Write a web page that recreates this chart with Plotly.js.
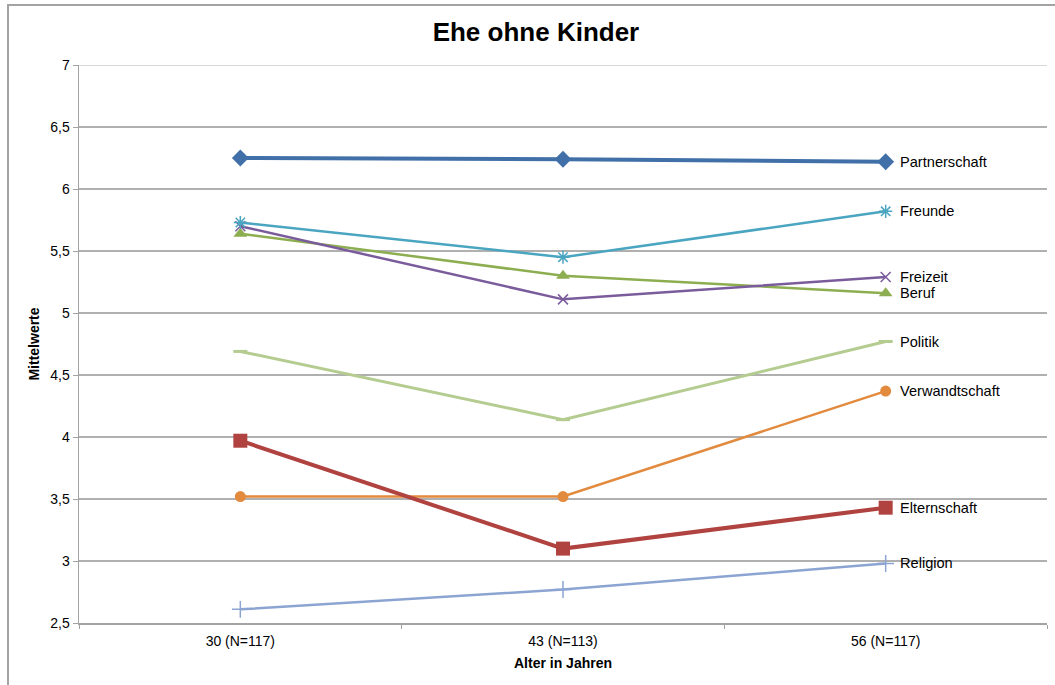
<!DOCTYPE html>
<html>
<head>
<meta charset="utf-8">
<script src="https://cdn.plot.ly/plotly-3.0.1.min.js"></script>
<style>
  html, body { margin: 0; padding: 0; background: #fff; }
  #wrap { position: relative; width: 1055px; height: 685px; overflow: hidden; }
  #chart { position: absolute; left: 0; top: 0; width: 1055px; height: 685px; }
  #frame { position: absolute; left: 7px; top: 4px; width: 1100px; height: 720px;
           border-left: 2px solid #a3a3a3; border-top: 2px solid #a3a3a3; pointer-events: none; }
</style>
</head>
<body>
<div id="wrap">
  <div id="chart"></div>
  <div id="frame"></div>
</div>
<script>
// Age groups (with sample sizes)
const ageGroups = ['30 (N=117)', '43 (N=113)', '56 (N=117)'];

// Mean importance ratings per life domain
const partnerschaft  = [6.25, 6.24, 6.22];
const freunde        = [5.73, 5.45, 5.82];
const freizeit       = [5.70, 5.11, 5.29];
const beruf          = [5.64, 5.30, 5.16];
const politik        = [4.69, 4.14, 4.77];
const verwandtschaft = [3.52, 3.52, 4.37];
const elternschaft   = [3.97, 3.10, 3.43];
const religion       = [2.61, 2.77, 2.98];

const seriesNames = ['Partnerschaft', 'Freunde', 'Freizeit', 'Beruf', 'Politik',
                     'Verwandtschaft', 'Elternschaft', 'Religion'];
const seriesValues = [partnerschaft, freunde, freizeit, beruf, politik,
                      verwandtschaft, elternschaft, religion];

const yMin = 2.5, yMax = 7;

const styles = {
  'Partnerschaft':  { color: '#4170a9', width: 4,   symbol: 'diamond',        size: 13, mline: 0 },
  'Freunde':        { color: '#4aa5c1', width: 2.5, symbol: 'asterisk-open',  size: 11, mline: 1.5 },
  'Freizeit':       { color: '#7a5c9c', width: 2.5, symbol: 'x-thin-open',    size: 10, mline: 1.5 },
  'Beruf':          { color: '#8dae50', width: 2.5, symbol: 'triangle-up',    size: 12, mline: 0 },
  'Politik':        { color: '#b4cc90', width: 3,   symbol: 'line-ew-open',   size: 10, mline: 3 },
  'Verwandtschaft': { color: '#e28a3e', width: 2.5, symbol: 'circle',         size: 11, mline: 0 },
  'Elternschaft':   { color: '#b0433f', width: 4,   symbol: 'square',         size: 14, mline: 0 },
  'Religion':       { color: '#8ca4d2', width: 2.5, symbol: 'cross-thin-open',size: 12, mline: 1.5 }
};

// Draw order: lighter series first, emphasised series on top
const drawOrder = ['Religion', 'Politik', 'Verwandtschaft', 'Beruf', 'Freizeit',
                   'Freunde', 'Elternschaft', 'Partnerschaft'];

const traces = drawOrder.map(name => {
  const s = styles[name];
  const vals = seriesValues[seriesNames.indexOf(name)];
  return {
    type: 'scatter',
    mode: 'lines+markers',
    name: name,
    x: ageGroups,
    y: vals,
    line: { color: s.color, width: s.width },
    marker: { symbol: s.symbol, size: s.size, color: s.color,
              line: { color: s.color, width: s.mline } },
    hoverinfo: 'name+y'
  };
});

// Series labels at the end of each line
const annotations = seriesNames.map((name, i) => ({
  xref: 'x', yref: 'y',
  x: ageGroups[ageGroups.length - 1],
  y: seriesValues[i][seriesValues[i].length - 1],
  text: name,
  showarrow: false,
  xanchor: 'left', yanchor: 'middle',
  xshift: 12,
  font: { family: 'Liberation Sans, Arial, sans-serif', size: 14.6, color: '#000' }
}));

const layout = {
  width: 1055, height: 685,
  margin: { l: 79, r: 8, t: 65, b: 62 },
  paper_bgcolor: 'rgba(0,0,0,0)',
  plot_bgcolor: '#ffffff',
  separators: ',.',
  showlegend: false,
  font: { family: 'Liberation Sans, Arial, sans-serif', size: 14, color: '#000' },
  title: {
    text: 'Ehe ohne Kinder',
    font: { family: 'Liberation Sans, Arial, sans-serif', size: 26, color: '#000', weight: 'bold' },
    x: 0.508, xanchor: 'center',
    y: 1 - 32 / 685, yref: 'container', yanchor: 'middle'
  },
  xaxis: {
    type: 'category',
    range: [-0.5, 2.5],
    tickson: 'boundaries',
    ticks: 'outside', ticklen: 4, tickcolor: '#a3a3a3', tickwidth: 1,
    ticklabelstandoff: 5,
    showline: true, linecolor: '#a3a3a3', linewidth: 1.5,
    showgrid: false, zeroline: false,
    tickfont: { size: 14, color: '#000' },
    title: { text: 'Alter in Jahren', standoff: 10,
             font: { size: 14, color: '#000', weight: 'bold' } }
  },
  yaxis: {
    range: [yMin, yMax],
    dtick: 0.5, tick0: yMin,
    ticks: 'outside', ticklen: 5, tickcolor: '#a3a3a3', tickwidth: 1,
    showline: true, linecolor: '#a3a3a3', linewidth: 1.5,
    showgrid: true, gridcolor: '#b0b0b0', gridwidth: 1.2,
    zeroline: false,
    tickfont: { size: 14, color: '#000' },
    title: { text: 'Mittelwerte', standoff: 7,
             font: { size: 14, color: '#000', weight: 'bold' } }
  },
  // top gridline at the upper end of the value axis
  shapes: [{
    type: 'line', xref: 'paper', yref: 'y', layer: 'below',
    x0: 0, x1: 1, y0: yMax, y1: yMax,
    line: { color: '#b0b0b0', width: 1.2 }
  }],
  annotations: annotations
};

Plotly.newPlot('chart', traces, layout, { displayModeBar: false, staticPlot: true });
</script>
</body>
</html>
